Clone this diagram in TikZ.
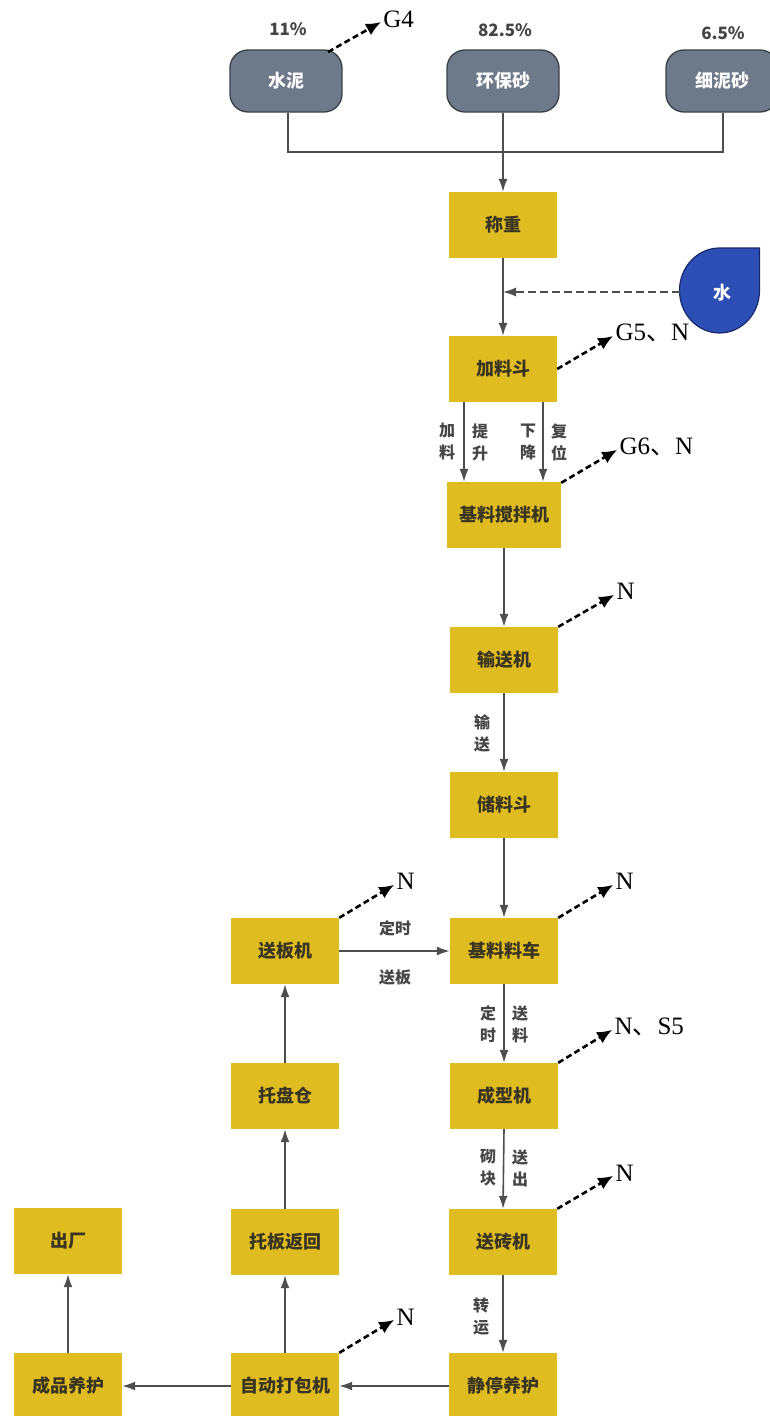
\documentclass[tikz,border=0pt]{standalone}
\usepackage{fontspec}
\setmainfont{Liberation Serif}
\newfontfamily\cjk{Noto Sans CJK SC}
\usetikzlibrary{arrows.meta}
\definecolor{boxy}{RGB}{223,189,32}
\definecolor{boxtxt}{RGB}{58,52,34}
\definecolor{rawfill}{RGB}{110,122,138}
\definecolor{rawline}{RGB}{58,64,74}
\definecolor{dropfill}{RGB}{45,78,180}
\definecolor{dropline}{RGB}{25,42,110}
\definecolor{connc}{RGB}{78,78,78}
\definecolor{labc}{RGB}{70,70,70}
\definecolor{pctc}{RGB}{68,68,68}
\begin{document}
\begin{tikzpicture}[x=1pt,y=-1pt,
  proc/.style={fill=boxy, minimum width=108pt, minimum height=66pt, inner sep=0pt,
    font=\cjk\bfseries\fontsize{18}{20}\selectfont, text=boxtxt},
  raw/.style={draw=rawline, line width=1.3pt, fill=rawfill, rounded corners=18pt,
    minimum width=112pt, minimum height=62pt, inner sep=0pt,
    font=\cjk\bfseries\fontsize{18}{20}\selectfont, text=white},
  conn/.style={draw=connc, line width=1.6pt},
  arr/.style={conn, -{Latex[length=13pt,width=9pt]}},
  darr/.style={conn, line width=1.4pt, dash pattern=on 8pt off 4pt, -{Latex[length=13pt,width=9pt]}},
  emis/.style={draw=black, line width=2.6pt, dash pattern=on 6pt off 3.5pt,
    -{Latex[length=15pt,width=13pt]}},
  emlab/.style={font=\fontsize{25}{27}\selectfont, anchor=west, inner sep=1pt, xshift=0pt, yshift=3pt},
  lab/.style={font=\cjk\bfseries\fontsize{16}{22}\selectfont, text=labc, align=center, inner sep=0pt},
  pct/.style={font=\cjk\bfseries\fontsize{17}{20}\selectfont, text=pctc, inner sep=0pt}
]
\useasboundingbox[fill=white] (0,0) rectangle (770,1416);

% raw materials
\node[raw] (cem)  at (286,81) {水泥};
\node[raw] (sand) at (503,81) {环保砂};
\node[raw] (fine) at (722,81) {细泥砂};
\node[pct] (p1) at (288,29) {11\%};
\node[pct] (p2) at (505,30) {82.5\%};
\node[pct] (p3) at (723,33) {6.5\%};

% main column
\node[proc] (cz)  at (503,225) {称重};
\node[proc] (jld) at (503,369) {加料斗};
\node[proc, minimum width=114pt] (jbj) at (504,515) {基料搅拌机};
\node[proc] (ssj) at (504,660) {输送机};
\node[proc] (cld) at (504,805) {储料斗};
\node[proc] (jlc) at (504,951) {基料料车};
\node[proc] (cxj) at (504,1096) {成型机};
\node[proc] (szj) at (503,1242) {送砖机};
\node[proc] (jtyh) at (503,1386) {静停养护};

% left columns
\node[proc] (sbj) at (285,951) {送板机};
\node[proc] (tpc) at (285,1096) {托盘仓};
\node[proc] (tbfh) at (285,1242) {托板返回};
\node[proc] (zddb) at (285,1386) {自动打包机};
\node[proc] (cc) at (68,1241) {出厂};
\node[proc] (cpyh) at (68,1386) {成品养护};

% water drop
\draw[draw=dropline, line width=1.2pt, fill=dropfill]
  (759.5,248) -- (759.5,290.5) .. controls (759.5,314) and (741.5,333) .. (719.5,333)
  .. controls (697.5,333) and (679.5,314) .. (679.5,290.5)
  .. controls (679.5,267) and (697.5,248) .. (719.5,248) -- cycle;
\node[font=\cjk\bfseries\fontsize{18}{20}\selectfont, text=white] (water) at (722,293) {水};
\coordinate (waterL) at (679.5,292);

% bus from raw materials
\draw[conn] (cem.south -| 288,0) -- (288,152) -- (723,152) -- (fine.south -| 723,0);
\draw[arr] (sand.south) -- (cz.north);

% main flow
\draw[arr] (cz.south) -- (jld.north);
\draw[darr] (waterL) -- (cz.south |- waterL);
\draw[arr] ([xshift=-39pt]jld.south) -- ([xshift=-40pt]jbj.north);
\draw[arr] ([xshift=40pt]jld.south) -- ([xshift=39pt]jbj.north);
\draw[arr] (jbj.south) -- (ssj.north);
\draw[arr] (ssj.south) -- (cld.north);
\draw[arr] (cld.south) -- (jlc.north);
\draw[arr] (jlc.south) -- (cxj.north);
\draw[arr] (cxj.south) -- (szj.north);
\draw[arr] (szj.south) -- (jtyh.north);
\draw[arr] (jtyh.west) -- (zddb.east);
\draw[arr] (zddb.west) -- (cpyh.east);
\draw[arr] (cpyh.north) -- (cc.south);
\draw[arr] (zddb.north) -- (tbfh.south);
\draw[arr] (tbfh.north) -- (tpc.south);
\draw[arr] (tpc.north) -- (sbj.south);
\draw[arr] (sbj.east) -- (jlc.west);

% flow labels
\node[lab] (l1) at (447,442) {加\\料};
\node[lab] (l2) at (480,442) {提\\升};
\node[lab] (l3) at (528,442) {下\\降};
\node[lab] (l4) at (559,442) {复\\位};
\node[lab] (l5) at (482,733) {输\\送};
\node[lab] (l6) at (395,928) {定时};
\node[lab] (l7) at (395,977) {送板};
\node[lab] (l8) at (488,1024) {定\\时};
\node[lab] (l9) at (520,1024) {送\\料};
\node[lab] (l10) at (488,1168) {砌\\块};
\node[lab] (l11) at (520,1168) {送\\出};
\node[lab] (l12) at (481,1317) {转\\运};

% emissions
\draw[emis] (328,52) -- (381,22) node[emlab] {G4};
\draw[emis] (jld.east) -- ++(56,-33) node[emlab] {G5{\cjk 、}N};
\draw[emis] ([yshift=-1pt]jbj.north east) -- ++(56,-33) node[emlab] {G6{\cjk 、}N};
\draw[emis] (ssj.north east) -- ++(56,-32) node[emlab] {N};
\draw[emis] (sbj.north east) -- ++(55,-33) node[emlab] {N};
\draw[emis] (jlc.north east) -- ++(55,-33) node[emlab] {N};
\draw[emis] (cxj.north east) -- ++(54,-33) node[emlab] {N{\cjk 、}S5};
\draw[emis] (szj.north east) -- ++(56,-33) node[emlab] {N};
\draw[emis] (zddb.north east) -- ++(55,-33) node[emlab] {N};
\end{tikzpicture}
\end{document}
